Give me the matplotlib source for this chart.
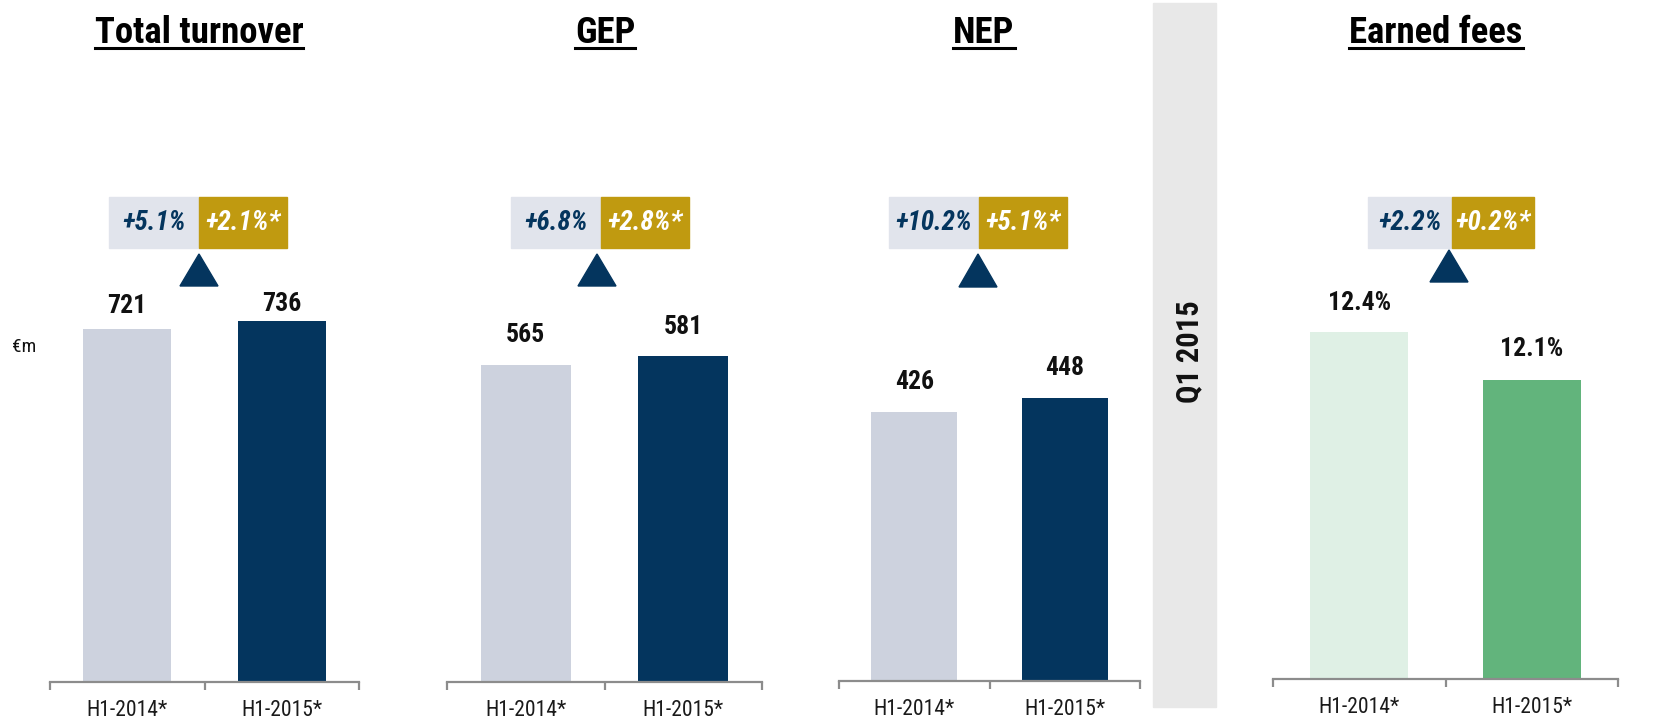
import matplotlib.pyplot as plt
from matplotlib.patches import Rectangle, Polygon
from matplotlib.lines import Line2D

plt.rcParams['font.family'] = ['Roboto Condensed', 'DejaVu Sans']

categories = ['H1-2014*', 'H1-2015*']
titles = ['Total turnover', 'GEP', 'NEP', 'Earned fees']
turnover = [721, 736]
gep = [565, 581]
nep = [426, 448]
fees = [12.4, 12.1]
value_labels = [['721', '736'], ['565', '581'], ['426', '448'], ['12.4%', '12.1%']]
growth = ['+5.1%', '+6.8%', '+10.2%', '+2.2%']
growth_lfl = ['+2.1%*', '+2.8%*', '+5.1%*', '+0.2%*']
band_label = 'Q1 2015'
unit = '€m'

W, H = 1661, 719
fig = plt.figure(figsize=(W / 100, H / 100), dpi=100)


def fx(px):
    return px / W


def fy(py):
    return 1 - py / H


navy = '#04355E'
grey_bar = '#CDD2DE'
axis_grey = '#8C8C8C'

# left, right, baseline (pixels), ylim
panels = [
    (50, 359, 682, (0, 1269)),
    (447, 762, 682, (0, 1110)),
    (839, 1140, 681, (0, 983)),
    (1273, 1618, 679, (10.23, 14.1)),
]
series = [turnover, gep, nep, fees]
bar_colors = [[grey_bar, navy]] * 3 + [['#DFF0E5', '#62B47C']]
label_gap = [[11, 5], [18, 17], [18, 18], [17, 19]]
badge_split = [199, 601, 979, 1452]
badge_w = [(90, 88), (90, 88), (90, 88), (84, 82)]
tri_y = [(254, 286), (254, 286), (254, 287), (250, 282)]
tri_x = [199, 597, 978, 1449]
title_x = [199, 605, 984, 1436]

# grey band behind "Q1 2015"
fig.patches.append(Rectangle((fx(1153), fy(707)), fx(1216) - fx(1153), fy(3) - fy(707),
                             transform=fig.transFigure, color='#E8E8E8', zorder=0))
fig.text(fx(1189), fy(352), band_label, rotation=90, ha='center', va='center',
         fontsize=22, fontweight='bold', color='#111111')

fig.text(fx(12), fy(347), unit, ha='left', va='center', fontsize=14, color='#111111')

title_texts = []
for i, (l, r, base, ylim) in enumerate(panels):
    ax = fig.add_axes([fx(l), fy(base), fx(r) - fx(l), fy(60) - fy(base)])
    ax.set_facecolor('none')
    vals = series[i]
    bars = ax.bar([0, 1], vals, width=0.57, color=bar_colors[i])
    ax.set_xlim(-0.5, 1.5)
    ax.set_ylim(*ylim)
    for s in ['top', 'right', 'left']:
        ax.spines[s].set_visible(False)
    ax.spines['bottom'].set_color(axis_grey)
    ax.spines['bottom'].set_linewidth(1.6)
    ax.set_yticks([])
    ax.set_xticks([0, 1])
    ax.set_xticklabels(categories, fontsize=15.5, color='#1A1A1A')
    ax.tick_params(axis='x', which='major', length=0, pad=13)
    ax.set_xticks([-0.5, 0.5, 1.5], minor=True)
    ax.tick_params(axis='x', which='minor', length=6, width=1.6, color=axis_grey, direction='out')

    for j, b in enumerate(bars):
        ax.annotate(value_labels[i][j], (b.get_x() + b.get_width() / 2, b.get_height()),
                    xytext=(0, label_gap[i][j] * 0.72), textcoords='offset points',
                    ha='center', va='bottom', fontsize=18.5, fontweight='bold', color='#111111')

    # growth badge
    s = badge_split[i]
    wl, wg = badge_w[i]
    fig.patches.append(Rectangle((fx(s - wl), fy(248)), fx(wl), fy(197) - fy(248),
                                 transform=fig.transFigure, color='#E1E4EC', zorder=1))
    fig.patches.append(Rectangle((fx(s), fy(248)), fx(wg), fy(197) - fy(248),
                                 transform=fig.transFigure, color='#C09A10', zorder=1))
    fig.text(fx(s - wl / 2), fy(223), growth[i], ha='center', va='center', fontsize=19.5,
             fontweight='bold', fontstyle='italic', color=navy, zorder=2)
    fig.text(fx(s + wg / 2), fy(223), growth_lfl[i], ha='center', va='center', fontsize=19.5,
             fontweight='bold', fontstyle='italic', color='white', zorder=2)

    # up triangle
    t0, t1 = tri_y[i]
    cx = tri_x[i]
    fig.patches.append(Polygon([(fx(cx - 19), fy(t1)), (fx(cx + 19), fy(t1)), (fx(cx), fy(t0))],
                               closed=True, transform=fig.transFigure, color=navy, zorder=1))

    t = fig.text(fx(title_x[i]), fy(43), titles[i], ha='center', va='baseline',
                 fontsize=26.5, fontweight='bold', color='black')
    title_texts.append(t)

# underline the titles
fig.canvas.draw()
renderer = fig.canvas.get_renderer()
for t in title_texts:
    bb = t.get_window_extent(renderer)
    y = fy(48)
    fig.lines.append(Line2D([bb.x0 / W, bb.x1 / W], [y, y], transform=fig.transFigure,
                            color='black', linewidth=2.2))

fig.savefig('out.png', dpi=100)
